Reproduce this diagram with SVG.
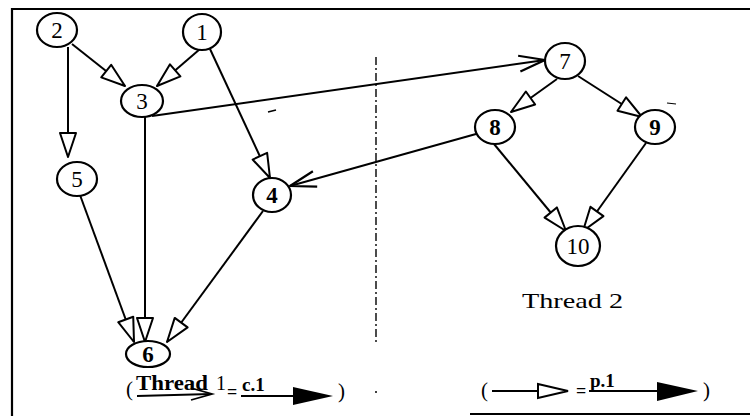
<svg xmlns="http://www.w3.org/2000/svg" width="750" height="416" viewBox="0 0 750 416">
  <style>
    .node ellipse { fill: #fff; stroke: #000; stroke-width: 2.2; }
    .node text { font-family: "Liberation Serif", "Times New Roman", serif; font-size: 23px; text-anchor: middle; fill: #000; }
    .edge { fill: none; stroke: #000; stroke-width: 2; }
    .frame { fill: none; stroke: #000; stroke-width: 2.2; }
    .label { font-family: "Liberation Serif", "Times New Roman", serif; fill: #000; }
  </style>
  <defs>
    <!-- hollow triangle head: edges inside a thread -->
    <marker id="tri" markerUnits="userSpaceOnUse" viewBox="-2 -2 28 20" markerWidth="28" markerHeight="20" refX="24" refY="8" orient="auto">
      <path d="M0,0 L24,8 L0,16 Z" fill="#fff" stroke="#000" stroke-width="2" stroke-linejoin="round"/>
    </marker>
    <!-- open V head: edges between threads -->
    <marker id="vee" markerUnits="userSpaceOnUse" viewBox="-2 -2 30 20" markerWidth="30" markerHeight="20" refX="26" refY="8" orient="auto">
      <path d="M0,0 L26,8 L0,16" fill="none" stroke="#000" stroke-width="2.2" stroke-linejoin="round"/>
    </marker>
  </defs>

  <!-- frame -->
  <path class="frame" d="M12,416 L12,9 L750,9"/>
  <path class="frame" d="M470,414 L750,414"/>

  <!-- thread separator -->
  <line x1="376" y1="57" x2="376" y2="342" stroke="#000" stroke-width="1.4" stroke-dasharray="8 3 2 3"/>
  <circle cx="376" cy="392" r="1" fill="#000"/>

  <!-- stray marks -->
  <path d="M268,112 L276,110" stroke="#000" stroke-width="1.5"/>
  <path d="M667,103 L676,104" stroke="#000" stroke-width="1.2"/>

  <g id="connectors">
    <path class="edge" d="M72,44 L125,86" marker-end="url(#tri)"/>
    <path class="edge" d="M200,49 L157,86" marker-end="url(#tri)"/>
    <path class="edge" d="M68,47 L68,157" marker-end="url(#tri)"/>
    <path class="edge" d="M210,49 L270,178" marker-end="url(#tri)"/>
    <path class="edge" d="M152,116 L545,60" marker-end="url(#vee)"/>
    <path class="edge" d="M145,117 L145,342" marker-end="url(#tri)"/>
    <path class="edge" d="M80,195 L134,342" marker-end="url(#tri)"/>
    <path class="edge" d="M263,211 L167,342" marker-end="url(#tri)"/>
    <path class="edge" d="M557,79 L511,112" marker-end="url(#tri)"/>
    <path class="edge" d="M578,76 L642,117" marker-end="url(#tri)"/>
    <path class="edge" d="M476,134 L290,186" marker-end="url(#vee)"/>
    <path class="edge" d="M494,144 L566,231" marker-end="url(#tri)"/>
    <path class="edge" d="M646,143 L583,231" marker-end="url(#tri)"/>
  </g>

  <g id="n1" class="node"><ellipse cx="202" cy="32" rx="19" ry="18"/><text x="202" y="40">1</text></g>
  <g id="n2" class="node"><ellipse cx="57" cy="30" rx="20" ry="17"/><text x="57" y="38">2</text></g>
  <g id="n3" class="node"><ellipse cx="142" cy="101" rx="21" ry="16"/><text x="142" y="109">3</text></g>
  <g id="n4" class="node"><ellipse cx="272" cy="195" rx="19" ry="17"/><text x="272" y="203" font-weight="bold" font-family="Liberation Sans, Arial, sans-serif" font-size="20">4</text></g>
  <g id="n5" class="node"><ellipse cx="77" cy="179" rx="20" ry="17"/><text x="77" y="187">5</text></g>
  <g id="n6" class="node"><ellipse cx="148" cy="354" rx="22" ry="13"/><text x="148" y="362" font-weight="bold" font-size="21">6</text></g>
  <g id="n7" class="node"><ellipse cx="565" cy="61" rx="20" ry="18"/><text x="565" y="69">7</text></g>
  <g id="n8" class="node"><ellipse cx="495" cy="127" rx="20" ry="17"/><text x="495" y="135" font-weight="bold" font-family="Liberation Sans, Arial, sans-serif" font-size="20">8</text></g>
  <g id="n9" class="node"><ellipse cx="655" cy="127" rx="20" ry="17"/><text x="655" y="135" font-weight="bold">9</text></g>
  <g id="n10" class="node"><ellipse cx="578" cy="246" rx="22" ry="20"/><text x="578" y="254">10</text></g>

  <!-- thread title -->
  <text class="label" x="522" y="308" font-size="22" textLength="101" lengthAdjust="spacingAndGlyphs">Thread 2</text>

  <!-- legend, thread 1 side -->
  <g id="legend-c">
    <text class="label" x="126" y="396" font-size="21">(</text>
    <text class="label" x="136" y="390" font-size="20" font-weight="bold" textLength="72" lengthAdjust="spacingAndGlyphs">Thread</text>
    <path d="M137,396 L211,394" stroke="#000" stroke-width="2" fill="none"/>
    <path d="M191,388 L212,394 L191,400" stroke="#000" stroke-width="1.8" fill="none"/>
    <text class="label" x="216" y="390" font-size="20">1</text>
    <text class="label" x="227" y="398" font-size="18" font-weight="bold">=</text>
    <text class="label" x="242" y="391" font-size="19" font-weight="bold">c.1</text>
    <path d="M241,396 L300,396" stroke="#000" stroke-width="2.2"/>
    <path d="M293,387 L333,396 L293,405 Z" fill="#000"/>
    <text class="label" x="338" y="398" font-size="21">)</text>
  </g>

  <!-- legend, thread 2 side -->
  <g id="legend-p">
    <text class="label" x="481" y="397" font-size="21">(</text>
    <path d="M492,391 L538,391" stroke="#000" stroke-width="2.2"/>
    <path d="M538,384 L568,391 L538,398 Z" fill="#fff" stroke="#000" stroke-width="2"/>
    <text class="label" x="576" y="397" font-size="18" font-weight="bold">=</text>
    <text class="label" x="590" y="387" font-size="19" font-weight="bold">p.1</text>
    <path d="M589,391 L664,391" stroke="#000" stroke-width="2.2"/>
    <path d="M657,382 L698,391 L657,401 Z" fill="#000"/>
    <text class="label" x="703" y="397" font-size="21">)</text>
  </g>
</svg>
